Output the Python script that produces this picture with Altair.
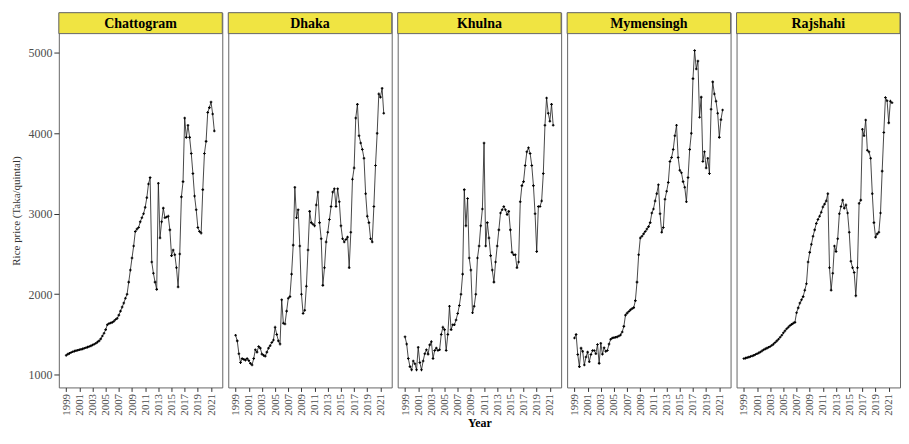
import altair as alt
import pandas as pd

divisions = ["Chattogram", "Dhaka", "Khulna", "Mymensingh", "Rajshahi"]

# quarterly readings, 1999 Q1 ... 2021 Q3 (Taka/quintal)
chattogram = [
    1240, 1255, 1265, 1275,
    1285, 1292, 1298, 1303,
    1310, 1315, 1320, 1328,
    1335, 1342, 1350, 1358,
    1368, 1378, 1390, 1405,
    1420, 1445, 1480, 1515,
    1560, 1620, 1635, 1642,
    1650, 1665, 1685, 1700,
    1740, 1790, 1840, 1890,
    1950, 2000, 2150, 2300,
    2450, 2600, 2780, 2810,
    2830, 2900, 2950, 3000,
    3080, 3200, 3370, 3450,
    2400, 2260, 2150, 2060,
    3380, 2700, 2900, 3070,
    2950, 2960, 2970, 2800,
    2480, 2550, 2490, 2330,
    2090, 2500, 3210, 3400,
    4190, 3950, 4100, 3950,
    3750, 3500, 3220, 3050,
    2830, 2780, 2760, 3300,
    3750, 3900, 4260, 4320,
    4390, 4240, 4030,
]
dhaka = [
    1490, 1420, 1260, 1150,
    1200, 1190, 1180, 1200,
    1175, 1140, 1120, 1200,
    1310, 1280, 1350, 1330,
    1255, 1240, 1230, 1280,
    1330, 1360, 1400, 1430,
    1590, 1500, 1420, 1380,
    1930, 1640, 1630, 1790,
    1950, 1970, 2250, 2610,
    3330, 2950, 3050, 2600,
    2000, 1760, 1800, 2100,
    2550, 3030, 2890, 2870,
    2850, 3110, 3270, 2890,
    2690, 2110, 2330, 2650,
    2770, 2930, 3090, 3270,
    3310, 3090, 3310, 3150,
    2850, 2690, 2650, 2680,
    2710, 2330, 2770, 3430,
    3570, 4190, 4360, 3970,
    3880, 3800, 3690, 3250,
    2970, 2890, 2690, 2650,
    3090, 3600, 4000, 4490,
    4450, 4560, 4250,
]
khulna = [
    1470, 1380, 1200, 1100,
    1060, 1170, 1135, 1060,
    1340, 1150, 1060, 1170,
    1260, 1310, 1255, 1370,
    1410, 1200, 1300, 1330,
    1300, 1310, 1500, 1590,
    1560, 1300, 1500, 1850,
    1560, 1620, 1620, 1680,
    1760, 1860, 2000, 2250,
    3300, 2850, 3190, 2450,
    2300, 1770, 1850, 2000,
    2450, 2600, 2850, 3060,
    3880, 2600, 2890, 2700,
    2480, 2300, 2150, 2400,
    2600, 2800, 3010, 3050,
    3090, 3050, 2990, 3030,
    2800, 2520, 2490, 2490,
    2330, 2400, 3150, 3350,
    3400, 3600, 3770, 3820,
    3750, 3600, 3350, 3000,
    2530, 3090, 3090, 3160,
    3500, 4100, 4440, 4250,
    4150, 4360, 4100,
]
mymensingh = [
    1455, 1500, 1250, 1100,
    1330, 1290, 1120, 1220,
    1280, 1160, 1250, 1300,
    1300, 1260, 1375, 1140,
    1390, 1255, 1335, 1290,
    1300, 1380, 1440, 1455,
    1460, 1465, 1470, 1480,
    1494, 1530, 1600, 1740,
    1765, 1785, 1805, 1820,
    1833, 1920, 2150, 2490,
    2700, 2720, 2750, 2780,
    2810, 2840, 2890, 3010,
    3060, 3160, 3250, 3360,
    3000, 2770, 2830, 3180,
    3280, 3390, 3650, 3700,
    3800, 3970, 4100, 3700,
    3540, 3510, 3400, 3330,
    3150, 3450, 3800, 4000,
    4680, 5030, 4800, 4900,
    4200, 4450, 3650, 3770,
    3570, 3690, 3500, 4300,
    4640, 4490, 4400, 4250,
    3950, 4170, 4290,
]
rajshahi = [
    1200, 1205, 1212, 1218,
    1225, 1232, 1240, 1250,
    1260, 1270, 1282, 1295,
    1310, 1320, 1330, 1340,
    1350, 1365, 1380, 1400,
    1420, 1440, 1465, 1490,
    1520, 1545, 1570, 1590,
    1610, 1625, 1640, 1650,
    1770, 1830, 1890, 1930,
    1970, 2050, 2130, 2400,
    2520, 2620, 2720, 2800,
    2880, 2930, 2970, 3020,
    3085, 3120, 3160, 3250,
    2330, 2050, 2260, 2600,
    2530, 2690, 3000, 3090,
    3170, 3070, 3110, 3010,
    2770, 2410, 2330, 2270,
    1980, 2330, 3130, 3170,
    4050, 3970, 4166, 3790,
    3770, 3690, 3250, 2890,
    2710, 2750, 2770, 3010,
    3530, 4010, 4445, 4405,
    4130, 4400, 4380,
]
series = [chattogram, dhaka, khulna, mymensingh, rajshahi]

year_ticks = list(range(1999, 2022, 2))
price_ticks = [1000, 2000, 3000, 4000, 5000]

W, H, STRIP = 164, 376, 21
FONT = "Liberation Serif"
x_scale = alt.Scale(domain=[1997.885, 2022.71], nice=False, zero=False)
y_scale = alt.Scale(domain=[841, 5500], nice=False, zero=False)


def panel(idx):
    name = divisions[idx]
    vals = series[idx]
    df = pd.DataFrame({"year": [1999 + i / 4 for i in range(len(vals))], "price": vals})
    x = alt.X(
        "year:Q",
        scale=x_scale,
        axis=alt.Axis(
            values=year_ticks, format="d", labelAngle=-90, labelFontSize=11,
            labelPadding=2, tickSize=4, grid=False, domain=False,
            labelFont=FONT, labelColor="#4D4D4D", tickColor="#333333",
            title="Year" if idx == 2 else None, titleFont=FONT,
            titleFontSize=12, titleFontWeight="bold", titleColor="#000000", titlePadding=2,
        ),
    )
    if idx == 0:
        y = alt.Y(
            "price:Q", scale=y_scale,
            axis=alt.Axis(
                values=price_ticks, format="d", labelFontSize=12, labelPadding=2, tickSize=5,
                grid=False, domain=False, labelFont=FONT, labelColor="#4D4D4D", tickColor="#333333",
                title="Rice price (Taka/quintal)", titleFont=FONT, titleFontSize=11,
                titleFontWeight="normal", titleColor="#333333", titlePadding=6, titleY=198.5,
            ),
        )
    else:
        y = alt.Y("price:Q", scale=y_scale, axis=None)
    base = alt.Chart(df)
    line = base.mark_line(color="#1a1a1a", strokeWidth=0.8).encode(x=x, y=y)
    pts = base.mark_point(shape="cross", filled=True, size=7, color="#000000", opacity=1).encode(x=x, y=y)
    lab = pd.DataFrame({"division": [name]})
    strip = alt.Chart(lab).mark_rect(fill="#F0E442", stroke="#666666", strokeWidth=1).encode(
        x=alt.value(0), x2=alt.value(W), y=alt.value(0), y2=alt.value(STRIP)
    )
    text = alt.Chart(lab).mark_text(
        font=FONT, fontSize=14, fontWeight="bold", color="#000000", align="center", baseline="middle"
    ).encode(x=alt.value(W / 2), y=alt.value(STRIP / 2 + 1), text="division:N")
    return alt.layer(line, pts, strip, text).properties(width=W, height=H)


chart = (
    alt.hconcat(*[panel(i) for i in range(5)], spacing=4)
    .properties(padding={"left": 2, "top": 3, "right": 0, "bottom": 0}, background="white")
    .configure_view(stroke="#666666", strokeWidth=1)
)

chart.save("out.html", embed_options={"renderer": "svg", "actions": False})
